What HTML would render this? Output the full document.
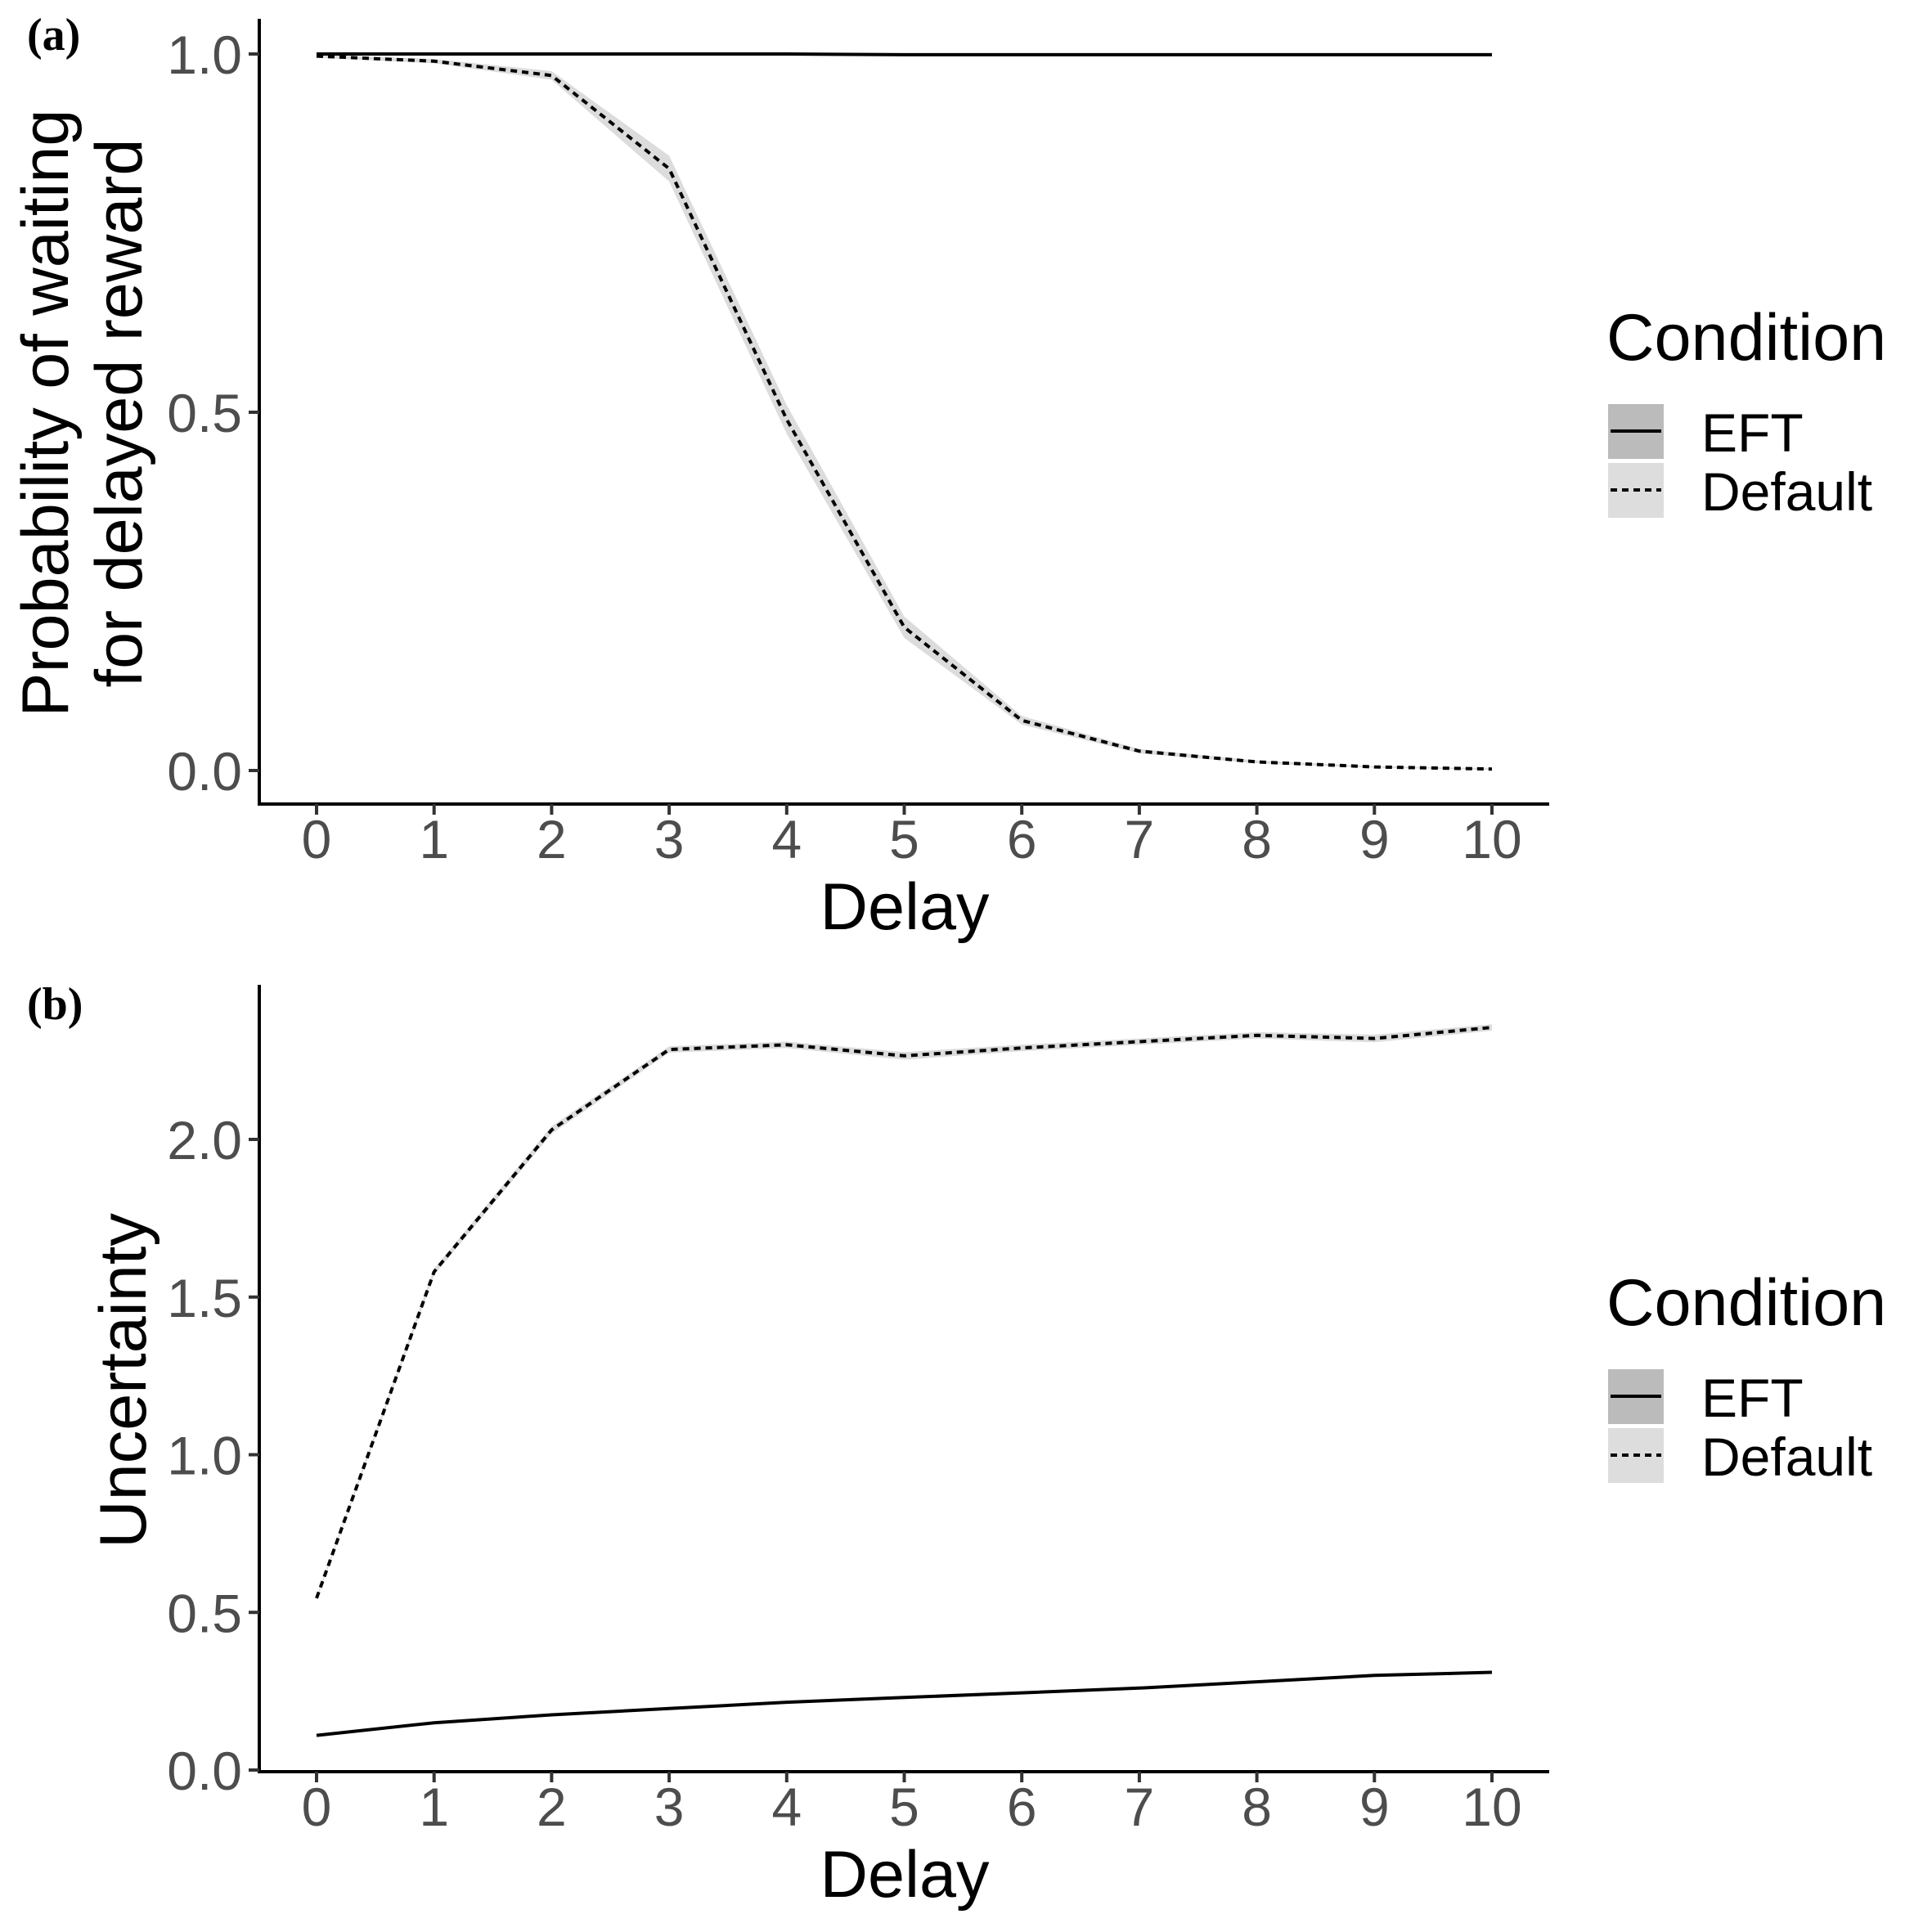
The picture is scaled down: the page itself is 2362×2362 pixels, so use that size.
<!DOCTYPE html>
<html><head><meta charset="utf-8"><style>
html,body{margin:0;padding:0;background:#fff;}
svg{display:block;font-family:"Liberation Sans",Arial,sans-serif;}
</style></head><body>
<svg id="chart" width="2362" height="2362" viewBox="0 0 2362 2362" xmlns="http://www.w3.org/2000/svg">
<rect x="0" y="0" width="2362" height="2362" fill="#fff"/>
<g id="panelA"></g>
<g id="panelB"></g>
</svg>
<script>
var delays = [0,1,2,3,4,5,6,7,8,9,10];
var probEFT = [1.0,1.0,1.0,1.0,1.0,0.999,0.999,0.999,0.999,0.999,0.999];
var probDefault = [0.997,0.99,0.97,0.84,0.49,0.2,0.07,0.027,0.012,0.005,0.002];
var probDefaultSE = [0.002,0.003,0.006,0.018,0.02,0.015,0.006,0.003,0.002,0.001,0.001];
var uncEFT = [0.11,0.15,0.175,0.195,0.215,0.23,0.245,0.26,0.28,0.30,0.31];
var uncDefault = [0.545,1.58,2.03,2.285,2.30,2.265,2.29,2.31,2.33,2.32,2.355];
var uncDefaultSE = [0.005,0.01,0.012,0.01,0.01,0.012,0.01,0.01,0.01,0.012,0.01];
var xTicks = [0,1,2,3,4,5,6,7,8,9,10];
var yTicksA = [0.0,0.5,1.0];
var yTicksB = [0.0,0.5,1.0,1.5,2.0];
var legendLabels = ["EFT","Default"];

var NS = "http://www.w3.org/2000/svg";
function mk(parent, tag, attrs, text){
  var e = document.createElementNS(NS, tag);
  for (var k in attrs) e.setAttribute(k, attrs[k]);
  if (text !== undefined) e.textContent = text;
  parent.appendChild(e);
  return e;
}

function drawPanel(g, cfg){
  var xs = function(v){ return cfg.x0 + (v - 0) * (cfg.x10 - cfg.x0) / 10; };
  var ys = function(v){ return cfg.yZero - v * cfg.pxPerUnit; };
  var up = [], dn = [];
  for (var i=0;i<delays.length;i++){
    up.push(xs(delays[i]).toFixed(1)+","+ys(cfg.def[i]+cfg.se[i]).toFixed(1));
    dn.unshift(xs(delays[i]).toFixed(1)+","+ys(cfg.def[i]-cfg.se[i]).toFixed(1));
  }
  var rib = mk(g,"polygon",{points:up.concat(dn).join(" "),fill:"#dcdcdc"});
  
  
  var pe = delays.map(function(d,i){return xs(d).toFixed(1)+","+ys(cfg.eft[i]).toFixed(1);}).join(" ");
  var le = mk(g,"polyline",{points:pe,fill:"none",stroke:"#000","stroke-width":4});
  
  
  var pd = delays.map(function(d,i){return xs(d).toFixed(1)+","+ys(cfg.def[i]).toFixed(1);}).join(" ");
  var ld = mk(g,"polyline",{points:pd,fill:"none",stroke:"#000","stroke-width":4,"stroke-dasharray":"8 6"});
  
  
  var ax = mk(g,"line",{x1:cfg.axX,y1:cfg.top,x2:cfg.axX,y2:cfg.axY+2,stroke:"#000","stroke-width":4});
  
  
  var axx = mk(g,"line",{x1:cfg.axX-2,y1:cfg.axY,x2:1894,y2:cfg.axY,stroke:"#000","stroke-width":4});
  
  
  cfg.yt.forEach(function(t){
    var y = ys(t);
    var tk = mk(g,"line",{x1:cfg.axX-13,y1:y,x2:cfg.axX,y2:y,stroke:"#333","stroke-width":4});
    
    
    var tl = mk(g,"text",{x:296,y:y+24,"text-anchor":"end","font-size":66,fill:"#4d4d4d"},t.toFixed(1));
    
    
  });
  xTicks.forEach(function(t){
    var x = xs(t);
    var tk = mk(g,"line",{x1:x,y1:cfg.axY,x2:x,y2:cfg.axY+13,stroke:"#333","stroke-width":4});
    
    
    var tl = mk(g,"text",{x:x,y:cfg.axY+66,"text-anchor":"middle","font-size":66,fill:"#4d4d4d"},String(t));
    
    
  });
  var xt = mk(g,"text",{x:1106,y:cfg.axY+153,"text-anchor":"middle","font-size":81,fill:"#000"},"Delay");
  
  
  cfg.ytitle.forEach(function(line, i){
    var bx = cfg.ytitleX[i], cy = cfg.ytitleY;
    var yt = mk(g,"text",{x:bx,y:cy,"text-anchor":"middle","font-size":81,fill:"#000",transform:"rotate(-90 "+bx+" "+cy+")"},line);
    
    
  });
  var pl = mk(g,"text",{x:33,y:cfg.labY,"font-size":56,"font-weight":"bold","font-family":"Liberation Serif, serif",fill:"#000"},cfg.label);
  
  
  var L = cfg.leg;
  var lt = mk(g,"text",{x:1964,y:L,"font-size":81,fill:"#000"},"Condition");
  
  
  var fills = ["#bbbbbb","#dddddd"];
  legendLabels.forEach(function(lab,i){
    var by = L + 54 + i*72;
    var key = mk(g,"g",{});
    
    
    mk(key,"rect",{x:1966,y:by,width:68,height:67,fill:fills[i]});
    var ln = {x1:1969,y1:by+33,x2:2031,y2:by+33,stroke:"#000","stroke-width":4};
    if (i==1) ln["stroke-dasharray"]="8 6";
    mk(key,"line",ln);
    mk(key,"text",{x:2080,y:by+58,"font-size":66,fill:"#000"},lab);
  });
}

drawPanel(document.getElementById("panelA"),{
  x0:387,x10:1824,yZero:942,pxPerUnit:876,axX:317,axY:983,top:23,
  eft:probEFT,def:probDefault,se:probDefaultSE,yt:yTicksA,
  ytitle:["Probability of waiting","for delayed reward"],ytitleX:[83,173],ytitleY:505,
  label:"(a)",labY:61,leg:440
});
drawPanel(document.getElementById("panelB"),{
  x0:387,x10:1824,yZero:2164,pxPerUnit:385.5,axX:317,axY:2166,top:1204,
  eft:uncEFT,def:uncDefault,se:uncDefaultSE,yt:yTicksB,
  ytitle:["Uncertainty"],ytitleX:[178],ytitleY:1688,
  label:"(b)",labY:1246,leg:1620
});
</script>
</body></html>
